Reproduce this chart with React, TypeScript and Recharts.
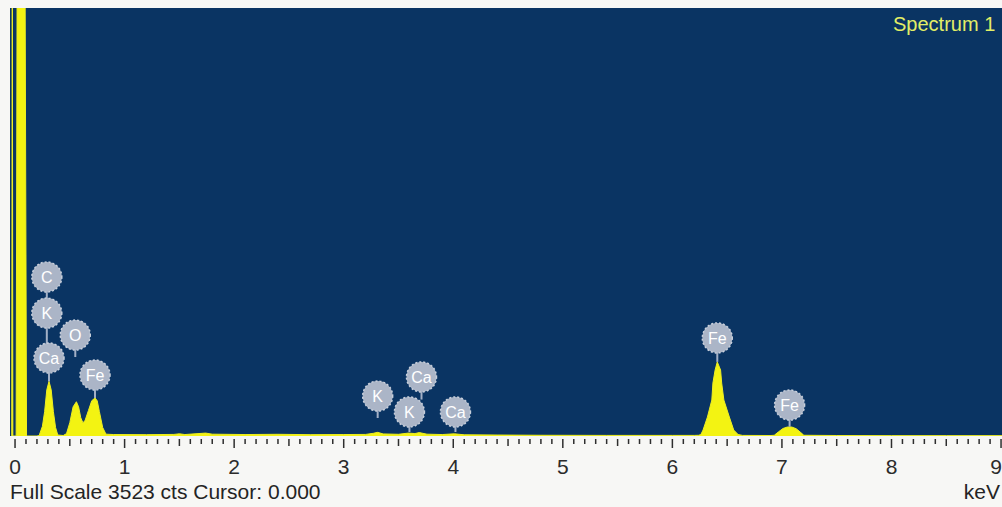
import {
  Area,
  AreaChart,
  CartesianGrid,
  ReferenceDot,
  ReferenceLine,
  XAxis,
  YAxis,
} from "recharts";

// spectrum outline, keV -> counts
const energies = [
  -0.03, -0.025, -0.02, 0.01, 0.02, 0.09, 0.105, 0.2,
  0.22, 0.25, 0.27, 0.29, 0.31, 0.33, 0.35, 0.37, 0.39, 0.44,
  0.47, 0.5, 0.53, 0.56, 0.58, 0.6, 0.62, 0.64, 0.67, 0.7, 0.73, 0.75, 0.77, 0.8, 0.83,
  0.9, 1.2, 1.45, 1.5, 1.55, 1.74, 1.8, 2.1, 2.4, 2.7, 3.0, 3.2,
  3.27, 3.31, 3.36, 3.5, 3.59, 3.65, 3.69, 3.76, 3.9, 4.01, 4.1, 4.4, 4.8, 5.4, 6.0, 6.2,
  6.24, 6.26, 6.28, 6.32, 6.36, 6.37, 6.39, 6.41, 6.44, 6.45, 6.47, 6.52, 6.56, 6.6, 6.64, 6.9,
  6.93, 6.97, 7.01, 7.05, 7.09, 7.13, 7.17, 7.2, 7.5, 8.0, 8.5, 9.1,
];
const counts = [
  0, 4200, 0, 0, 4200, 4200, 0, 0,
  4, 80, 200, 380, 450, 380, 200, 70, 8, 4,
  20, 110, 240, 282, 240, 150, 108, 130, 210, 290, 313, 290, 200, 70, 15,
  12, 11, 13, 18, 12, 24, 15, 12, 14, 11, 12, 13,
  22, 30, 17, 14, 24, 20, 28, 15, 12, 18, 10, 8, 6, 5, 5, 5,
  6, 12, 49, 156, 296, 436, 543, 610, 543, 436, 296, 156, 49, 12, 5, 4,
  6, 35, 62, 74, 74, 60, 30, 6, 4, 3, 3, 3,
];

// element markers: circle centre and where its stem ends (counts)
const markerNames = ["C", "K", "Ca", "O", "Fe", "K", "K", "Ca", "Ca", "Fe", "Fe"];
const markerEnergies = [0.29, 0.29, 0.31, 0.55, 0.73, 3.31, 3.6, 3.71, 4.02, 6.41, 7.07];
const markerCenters = [1309, 1012, 642, 831, 502, 329, 198, 486, 198, 807, 255];
const markerFeet = [1012, 642, 450, 650, 313, 148, 33, 300, 33, 610, 76];

const energyLabels = ["0", "1", "2", "3", "4", "5", "6", "7", "8", "9"];
const fullScale = 3523;

const spectrum = energies.map((e, i) => ({ e, c: counts[i] }));
const tickValues = Array.from({ length: 92 }, (_, i) => i / 10);

const font = '"Liberation Sans", Arial, sans-serif';

const KevTick = (props: any) => {
  const { x, y, payload } = props;
  const v = payload.value;
  const major = Math.abs(v - Math.round(v)) < 1e-6;
  const half = Math.abs(v * 2 - Math.round(v * 2)) < 1e-6;
  const len = major ? 9 : half ? 7 : 5;
  const idx = Math.round(v);
  // last label sits on the right edge, keep it inside
  const atEdge = idx === energyLabels.length - 1;
  return (
    <g>
      <line x1={x} x2={x} y1={y + 1} y2={y + 1 + len} stroke="#2e2e2e" strokeWidth={1.5} />
      {major ? (
        <text
          x={atEdge ? x + 1 : x}
          y={y + 36}
          textAnchor={atEdge ? "end" : "middle"}
          fontSize={21}
          fill="#2b2b2b"
          fontFamily={font}
        >
          {energyLabels[idx]}
        </text>
      ) : null}
    </g>
  );
};

const markerShape = (name: string) => (p: any) => (
  <g>
    <circle cx={p.cx} cy={p.cy} r={15} fill="#abb5c7" stroke="#c8cfdb" strokeWidth={1.5} strokeDasharray="2 2" />
    <text
      x={p.cx}
      y={p.cy + 6}
      textAnchor="middle"
      fontSize={16}
      fill="#ffffff"
      fontFamily={font}
    >
      {name}
    </text>
  </g>
);

export default function App() {
  return (
    <div
      style={{
        position: "absolute",
        left: 0,
        top: 0,
        width: 1002,
        height: 507,
        overflow: "hidden",
        background: "#f7f7f5",
        fontFamily: font,
      }}
    >
      <AreaChart
        width={1012}
        height={507}
        data={spectrum}
        margin={{ top: 8, right: 0, left: 10, bottom: 31 }}
      >
        <CartesianGrid horizontal={false} vertical={false} stroke="none" fill="#0a3463" />
        <XAxis
          dataKey="e"
          type="number"
          domain={[-0.046, 9.1]}
          allowDataOverflow
          ticks={tickValues}
          interval={0}
          tickSize={0}
          tickLine={false}
          axisLine={false}
          height={40}
          tick={KevTick}
        />
        <YAxis hide domain={[0, fullScale]} allowDataOverflow />
        <Area
          dataKey="c"
          type="linear"
          stroke="#eeee22"
          strokeWidth={1}
          fill="#f3f312"
          fillOpacity={1}
          dot={false}
          activeDot={false}
          isAnimationActive={false}
        />
        {markerNames.map((name, i) => (
          <ReferenceLine
            key={"s" + i}
            segment={[
              { x: markerEnergies[i], y: markerFeet[i] },
              { x: markerEnergies[i], y: markerCenters[i] },
            ]}
            stroke="#a3b0c6"
            strokeWidth={2}
          />
        ))}
        {markerNames.map((name, i) => (
          <ReferenceDot
            key={"m" + i}
            x={markerEnergies[i]}
            y={markerCenters[i]}
            r={15}
            shape={markerShape(name)}
          />
        ))}
      </AreaChart>
      <div
        style={{
          position: "absolute",
          left: 893,
          top: 14,
          fontSize: 20,
          lineHeight: "20px",
          color: "#e2ee66",
          whiteSpace: "nowrap",
        }}
      >
        Spectrum 1
      </div>
      <div
        style={{
          position: "absolute",
          left: 10,
          top: 481,
          fontSize: 21,
          lineHeight: "21px",
          color: "#242424",
          whiteSpace: "nowrap",
        }}
      >
        Full Scale {fullScale} cts Cursor: 0.000
      </div>
      <div
        style={{
          position: "absolute",
          right: 2,
          top: 481,
          fontSize: 21,
          lineHeight: "21px",
          color: "#242424",
          whiteSpace: "nowrap",
        }}
      >
        keV
      </div>
    </div>
  );
}
